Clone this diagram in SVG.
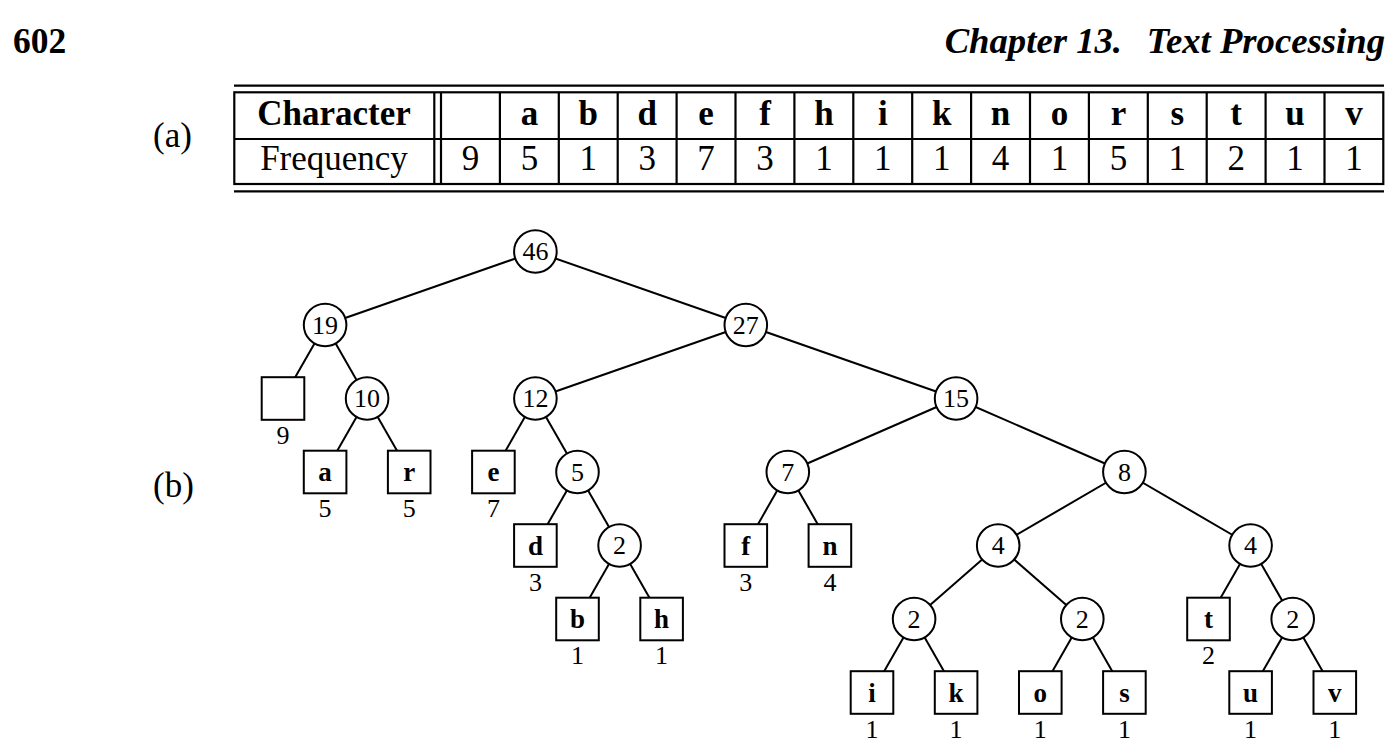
<svg xmlns="http://www.w3.org/2000/svg" width="1400" height="754" viewBox="0 0 1400 754">
<style>
text{font-family:"Liberation Serif","Times New Roman",serif;fill:#000}
.hd{font-size:35.5px;font-weight:bold}
.hi{font-size:36.7px;font-weight:bold;font-style:italic}
.lab{font-size:35px}
.tb{font-size:35px;font-weight:bold;text-anchor:middle}
.tn{font-size:35px;text-anchor:middle}
.rule{stroke:#000;stroke-width:2.2;fill:none}
.edge{stroke:#000;stroke-width:2}
.c{fill:#fff;stroke:#000;stroke-width:2}
.ct{font-size:26px;text-anchor:middle}
.lt{font-size:27px;font-weight:bold;text-anchor:middle}
.ft{font-size:26px;text-anchor:middle}
</style>
<rect width="1400" height="754" fill="#fff"/>
<text class="hd" x="13" y="52.5">602</text>
<text class="hi" x="1122" y="52.5" text-anchor="end">Chapter 13.</text>
<text class="hi" x="1385" y="52.5" text-anchor="end">Text Processing</text>
<text class="lab" x="153" y="147">(a)</text>
<text class="lab" x="153" y="496.7">(b)</text>
<g id="table">
<line class="rule" x1="234" y1="85.7" x2="1384" y2="85.7"/>
<line class="rule" x1="234" y1="191.3" x2="1384" y2="191.3"/>
<rect class="rule" x="234.3" y="92.3" width="1149" height="91.7"/>
<line class="rule" x1="234.3" y1="139" x2="1383.3" y2="139"/>
<line class="rule" x1="434.3" y1="92.3" x2="434.3" y2="184"/>
<line class="rule" x1="441" y1="92.3" x2="441" y2="184"/>
<g class="rule">
<line x1="499.9" y1="92.3" x2="499.9" y2="184"/>
<line x1="558.8" y1="92.3" x2="558.8" y2="184"/>
<line x1="617.7" y1="92.3" x2="617.7" y2="184"/>
<line x1="676.6" y1="92.3" x2="676.6" y2="184"/>
<line x1="735.5" y1="92.3" x2="735.5" y2="184"/>
<line x1="794.4" y1="92.3" x2="794.4" y2="184"/>
<line x1="853.3" y1="92.3" x2="853.3" y2="184"/>
<line x1="912.2" y1="92.3" x2="912.2" y2="184"/>
<line x1="971.1" y1="92.3" x2="971.1" y2="184"/>
<line x1="1030" y1="92.3" x2="1030" y2="184"/>
<line x1="1088.9" y1="92.3" x2="1088.9" y2="184"/>
<line x1="1147.8" y1="92.3" x2="1147.8" y2="184"/>
<line x1="1206.7" y1="92.3" x2="1206.7" y2="184"/>
<line x1="1265.6" y1="92.3" x2="1265.6" y2="184"/>
<line x1="1324.5" y1="92.3" x2="1324.5" y2="184"/>
</g>
<text class="tb" x="334" y="124.7">Character</text>
<text class="tn" x="334" y="169.5">Frequency</text>
<g class="tb">
<text x="529.4" y="124.7">a</text>
<text x="588.3" y="124.7">b</text>
<text x="647.2" y="124.7">d</text>
<text x="706.1" y="124.7">e</text>
<text x="765" y="124.7">f</text>
<text x="823.9" y="124.7">h</text>
<text x="882.8" y="124.7">i</text>
<text x="941.7" y="124.7">k</text>
<text x="1000.6" y="124.7">n</text>
<text x="1059.5" y="124.7">o</text>
<text x="1118.4" y="124.7">r</text>
<text x="1177.3" y="124.7">s</text>
<text x="1236.2" y="124.7">t</text>
<text x="1295.1" y="124.7">u</text>
<text x="1354" y="124.7">v</text>
</g>
<g class="tn">
<text x="470.5" y="169.5">9</text>
<text x="529.4" y="169.5">5</text>
<text x="588.3" y="169.5">1</text>
<text x="647.2" y="169.5">3</text>
<text x="706.1" y="169.5">7</text>
<text x="765" y="169.5">3</text>
<text x="823.9" y="169.5">1</text>
<text x="882.8" y="169.5">1</text>
<text x="941.7" y="169.5">1</text>
<text x="1000.6" y="169.5">4</text>
<text x="1059.5" y="169.5">1</text>
<text x="1118.4" y="169.5">5</text>
<text x="1177.3" y="169.5">1</text>
<text x="1236.2" y="169.5">2</text>
<text x="1295.1" y="169.5">1</text>
<text x="1354" y="169.5">1</text>
</g>
</g>
<g id="connectors" class="edge">
<line x1="535.4" y1="251.5" x2="325.1" y2="325"/>
<line x1="535.4" y1="251.5" x2="745.8" y2="325"/>
<line x1="325.1" y1="325" x2="283" y2="398.5"/>
<line x1="325.1" y1="325" x2="367.1" y2="398.5"/>
<line x1="367.1" y1="398.5" x2="325.1" y2="472"/>
<line x1="367.1" y1="398.5" x2="409.2" y2="472"/>
<line x1="745.8" y1="325" x2="535.4" y2="398.5"/>
<line x1="745.8" y1="325" x2="956.1" y2="398.5"/>
<line x1="535.4" y1="398.5" x2="493.4" y2="472"/>
<line x1="535.4" y1="398.5" x2="577.5" y2="472"/>
<line x1="577.5" y1="472" x2="535.4" y2="545.5"/>
<line x1="577.5" y1="472" x2="619.6" y2="545.5"/>
<line x1="619.6" y1="545.5" x2="577.5" y2="619"/>
<line x1="619.6" y1="545.5" x2="661.6" y2="619"/>
<line x1="956.1" y1="398.5" x2="787.8" y2="472"/>
<line x1="956.1" y1="398.5" x2="1124.4" y2="472"/>
<line x1="787.8" y1="472" x2="745.8" y2="545.5"/>
<line x1="787.8" y1="472" x2="829.9" y2="545.5"/>
<line x1="1124.4" y1="472" x2="998.2" y2="545.5"/>
<line x1="1124.4" y1="472" x2="1250.6" y2="545.5"/>
<line x1="998.2" y1="545.5" x2="914.1" y2="619"/>
<line x1="998.2" y1="545.5" x2="1082.3" y2="619"/>
<line x1="914.1" y1="619" x2="872" y2="692.5"/>
<line x1="914.1" y1="619" x2="956.1" y2="692.5"/>
<line x1="1082.3" y1="619" x2="1040.3" y2="692.5"/>
<line x1="1082.3" y1="619" x2="1124.4" y2="692.5"/>
<line x1="1250.6" y1="545.5" x2="1208.5" y2="619"/>
<line x1="1250.6" y1="545.5" x2="1292.7" y2="619"/>
<line x1="1292.7" y1="619" x2="1250.6" y2="692.5"/>
<line x1="1292.7" y1="619" x2="1334.8" y2="692.5"/>
</g>
<g id="n46"><circle class="c" cx="535.4" cy="251.5" r="21.3"/><text class="ct" x="535.4" y="260.3">46</text></g>
<g id="n19"><circle class="c" cx="325.1" cy="325" r="21.3"/><text class="ct" x="325.1" y="333.8">19</text></g>
<g id="n27"><circle class="c" cx="745.8" cy="325" r="21.3"/><text class="ct" x="745.8" y="333.8">27</text></g>
<g id="n10"><circle class="c" cx="367.1" cy="398.5" r="21.3"/><text class="ct" x="367.1" y="407.3">10</text></g>
<g id="n12"><circle class="c" cx="535.4" cy="398.5" r="21.3"/><text class="ct" x="535.4" y="407.3">12</text></g>
<g id="n15"><circle class="c" cx="956.1" cy="398.5" r="21.3"/><text class="ct" x="956.1" y="407.3">15</text></g>
<g id="n5"><circle class="c" cx="577.5" cy="472" r="21.3"/><text class="ct" x="577.5" y="480.8">5</text></g>
<g id="n7"><circle class="c" cx="787.8" cy="472" r="21.3"/><text class="ct" x="787.8" y="480.8">7</text></g>
<g id="n8"><circle class="c" cx="1124.4" cy="472" r="21.3"/><text class="ct" x="1124.4" y="480.8">8</text></g>
<g id="n2a"><circle class="c" cx="619.6" cy="545.5" r="21.3"/><text class="ct" x="619.6" y="554.3">2</text></g>
<g id="n4a"><circle class="c" cx="998.2" cy="545.5" r="21.3"/><text class="ct" x="998.2" y="554.3">4</text></g>
<g id="n4b"><circle class="c" cx="1250.6" cy="545.5" r="21.3"/><text class="ct" x="1250.6" y="554.3">4</text></g>
<g id="n2b"><circle class="c" cx="914.1" cy="619" r="21.3"/><text class="ct" x="914.1" y="627.8">2</text></g>
<g id="n2c"><circle class="c" cx="1082.3" cy="619" r="21.3"/><text class="ct" x="1082.3" y="627.8">2</text></g>
<g id="n2d"><circle class="c" cx="1292.7" cy="619" r="21.3"/><text class="ct" x="1292.7" y="627.8">2</text></g>
<g id="leaf-space"><rect class="c" x="261.7" y="377.2" width="42.6" height="42.6"/><text class="ft" x="283" y="443.5">9</text></g>
<g id="leaf-a"><rect class="c" x="303.8" y="450.7" width="42.6" height="42.6"/><text class="lt" x="325.1" y="481">a</text><text class="ft" x="325.1" y="517">5</text></g>
<g id="leaf-r"><rect class="c" x="387.9" y="450.7" width="42.6" height="42.6"/><text class="lt" x="409.2" y="481">r</text><text class="ft" x="409.2" y="517">5</text></g>
<g id="leaf-e"><rect class="c" x="472.1" y="450.7" width="42.6" height="42.6"/><text class="lt" x="493.4" y="481">e</text><text class="ft" x="493.4" y="517">7</text></g>
<g id="leaf-d"><rect class="c" x="514.1" y="524.2" width="42.6" height="42.6"/><text class="lt" x="535.4" y="554.5">d</text><text class="ft" x="535.4" y="590.5">3</text></g>
<g id="leaf-f"><rect class="c" x="724.5" y="524.2" width="42.6" height="42.6"/><text class="lt" x="745.8" y="554.5">f</text><text class="ft" x="745.8" y="590.5">3</text></g>
<g id="leaf-n"><rect class="c" x="808.6" y="524.2" width="42.6" height="42.6"/><text class="lt" x="829.9" y="554.5">n</text><text class="ft" x="829.9" y="590.5">4</text></g>
<g id="leaf-b"><rect class="c" x="556.2" y="597.7" width="42.6" height="42.6"/><text class="lt" x="577.5" y="628">b</text><text class="ft" x="577.5" y="664">1</text></g>
<g id="leaf-h"><rect class="c" x="640.3" y="597.7" width="42.6" height="42.6"/><text class="lt" x="661.6" y="628">h</text><text class="ft" x="661.6" y="664">1</text></g>
<g id="leaf-t"><rect class="c" x="1187.2" y="597.7" width="42.6" height="42.6"/><text class="lt" x="1208.5" y="628">t</text><text class="ft" x="1208.5" y="664">2</text></g>
<g id="leaf-i"><rect class="c" x="850.7" y="671.2" width="42.6" height="42.6"/><text class="lt" x="872" y="701.5">i</text><text class="ft" x="872" y="737.5">1</text></g>
<g id="leaf-k"><rect class="c" x="934.8" y="671.2" width="42.6" height="42.6"/><text class="lt" x="956.1" y="701.5">k</text><text class="ft" x="956.1" y="737.5">1</text></g>
<g id="leaf-o"><rect class="c" x="1019" y="671.2" width="42.6" height="42.6"/><text class="lt" x="1040.3" y="701.5">o</text><text class="ft" x="1040.3" y="737.5">1</text></g>
<g id="leaf-s"><rect class="c" x="1103.1" y="671.2" width="42.6" height="42.6"/><text class="lt" x="1124.4" y="701.5">s</text><text class="ft" x="1124.4" y="737.5">1</text></g>
<g id="leaf-u"><rect class="c" x="1229.3" y="671.2" width="42.6" height="42.6"/><text class="lt" x="1250.6" y="701.5">u</text><text class="ft" x="1250.6" y="737.5">1</text></g>
<g id="leaf-v"><rect class="c" x="1313.5" y="671.2" width="42.6" height="42.6"/><text class="lt" x="1334.8" y="701.5">v</text><text class="ft" x="1334.8" y="737.5">1</text></g>
</svg>
